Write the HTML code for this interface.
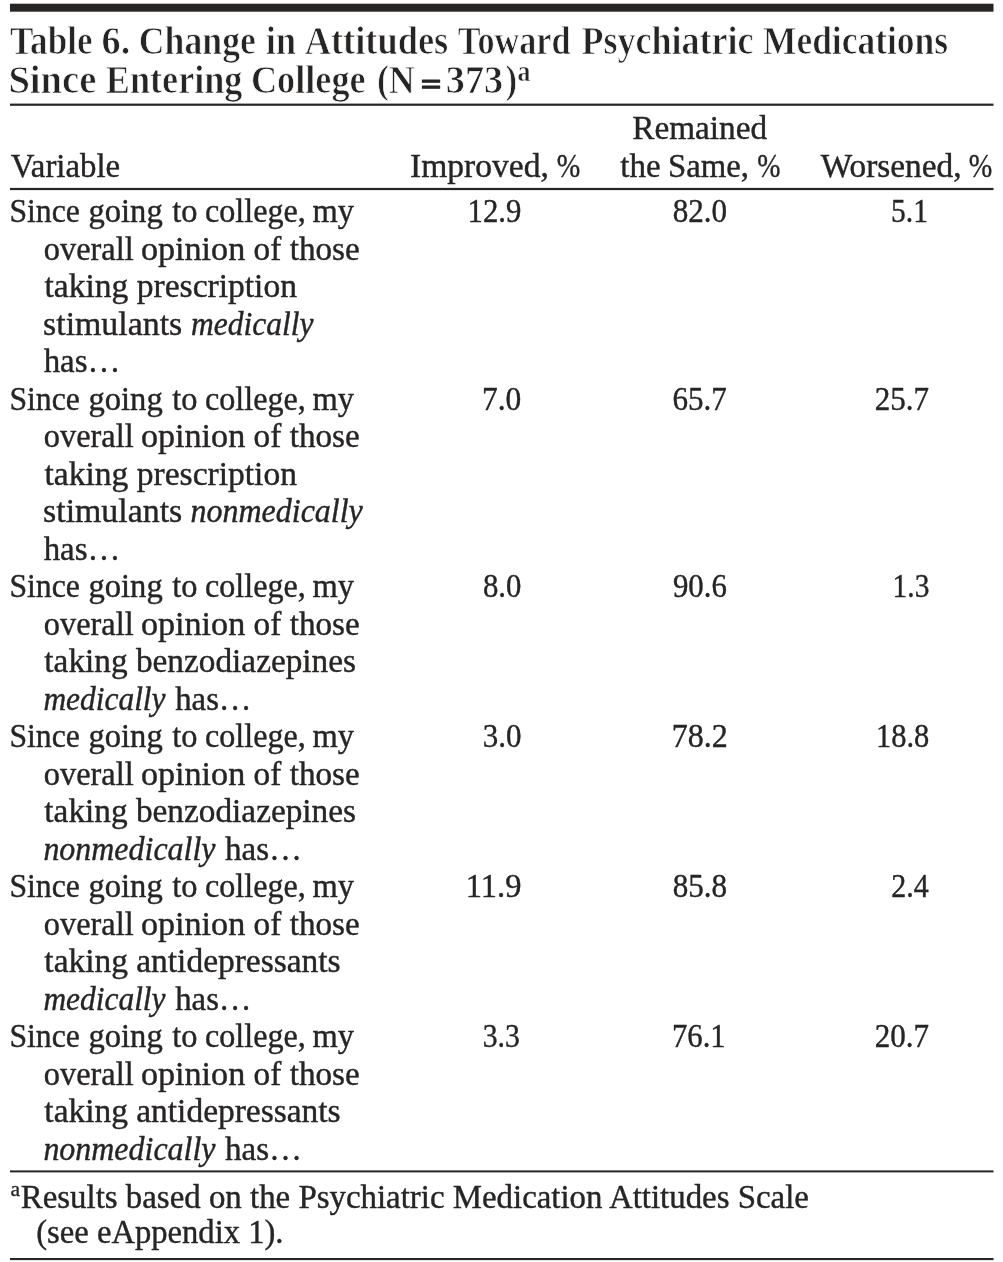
<!DOCTYPE html>
<html lang="en">
<head>
<meta charset="utf-8">
<title>Table 6. Change in Attitudes Toward Psychiatric Medications Since Entering College</title>
<style>
html,body{margin:0;padding:0;background:#fff;}
body{width:1003px;height:1262px;overflow:hidden;position:relative;}
svg{position:absolute;left:0;top:0;display:block;}
text{font-family:"Liberation Serif","DejaVu Serif",serif;fill:#272524;stroke:#272524;stroke-width:0.4px;stroke-linejoin:round;}
.b{font-size:33.0px;}
.t{font-size:40px;font-weight:bold;stroke:#fff;stroke-width:0.75px;}
.tq{font-size:40px;font-weight:bold;stroke-width:1.5px;}
.ts{font-size:29px;font-weight:bold;stroke:#fff;stroke-width:0.5px;}
.fs{font-size:20px;stroke-width:0.3px;}
.i{font-style:italic;}
</style>
</head>
<body>
<svg width="1003" height="1262" viewBox="0 0 1003 1262">
<rect x="10" y="3.7" width="983.5" height="8" fill="#272524"/>
<rect x="10" y="103.6" width="983.5" height="2.2" fill="#272524"/>
<rect x="10" y="187.9" width="983.5" height="2.2" fill="#272524"/>
<rect x="10" y="1170.4" width="983.5" height="2" fill="#272524"/>
<rect x="10" y="1258" width="983.5" height="2.1" fill="#272524"/>
<text id="t1w0" class="t" x="9.90" y="53.50" textLength="82.62" lengthAdjust="spacingAndGlyphs">Table</text>
<text id="t1w1" class="t" x="101.55" y="53.50" textLength="28.74" lengthAdjust="spacingAndGlyphs">6.</text>
<text id="t1w2" class="t" x="138.85" y="53.50" textLength="116.98" lengthAdjust="spacingAndGlyphs">Change</text>
<text id="t1w3" class="t" x="265.70" y="53.50" textLength="30.48" lengthAdjust="spacingAndGlyphs">in</text>
<text id="t1w4" class="t" x="304.65" y="53.50" textLength="143.60" lengthAdjust="spacingAndGlyphs">Attitudes</text>
<text id="t1w5" class="t" x="457.80" y="53.50" textLength="112.63" lengthAdjust="spacingAndGlyphs">Toward</text>
<text id="t1w6" class="t" x="581.55" y="53.50" textLength="172.04" lengthAdjust="spacingAndGlyphs">Psychiatric</text>
<text id="t1w7" class="t" x="763.00" y="53.50" textLength="185.01" lengthAdjust="spacingAndGlyphs">Medications</text>
<text id="t2w0" class="t" x="8.40" y="93.20" textLength="87.99" lengthAdjust="spacingAndGlyphs">Since</text>
<text id="t2w1" class="t" x="105.85" y="93.20" textLength="136.60" lengthAdjust="spacingAndGlyphs">Entering</text>
<text id="t2w2" class="t" x="250.95" y="93.20" textLength="114.66" lengthAdjust="spacingAndGlyphs">College</text>
<text id="t2w3" class="t" x="376.90" y="93.20" textLength="37.89" lengthAdjust="spacingAndGlyphs">(N</text>
<text id="t2w4" class="tq" transform="translate(0,95.10) scale(1,0.77)" x="420.65" y="0" textLength="20.79" lengthAdjust="spacingAndGlyphs">=</text>
<text id="t2w5" class="t" x="445.85" y="93.20" textLength="57.31" lengthAdjust="spacingAndGlyphs">373</text>
<text id="t2w6" class="t" x="505.60" y="93.20" textLength="11.62" lengthAdjust="spacingAndGlyphs">)</text>
<text id="ts" class="ts" x="517.50" y="80.80" textLength="12.94" lengthAdjust="spacingAndGlyphs">a</text>
<text id="h1" class="b" x="10.75" y="177.10" textLength="109.46" lengthAdjust="spacingAndGlyphs">Variable</text>
<text id="h2a" class="b" x="410.00" y="177.10" textLength="138.81" lengthAdjust="spacingAndGlyphs">Improved,</text>
<text id="h2b" class="b" x="556.75" y="177.10" textLength="23.50" lengthAdjust="spacingAndGlyphs">%</text>
<text id="h3" class="b" x="632.25" y="138.90" textLength="134.87" lengthAdjust="spacingAndGlyphs">Remained</text>
<text id="h4a" class="b" x="620.25" y="177.10" textLength="40.29" lengthAdjust="spacingAndGlyphs">the</text>
<text id="h4b" class="b" x="668.00" y="177.10" textLength="80.96" lengthAdjust="spacingAndGlyphs">Same,</text>
<text id="h4c" class="b" x="757.25" y="177.10" textLength="23.14" lengthAdjust="spacingAndGlyphs">%</text>
<text id="h5a" class="b" x="820.75" y="177.10" textLength="140.77" lengthAdjust="spacingAndGlyphs">Worsened,</text>
<text id="h5b" class="b" x="968.75" y="177.10" textLength="23.50" lengthAdjust="spacingAndGlyphs">%</text>
<text id="r0l0p0" class="b" x="9.40" y="222.00" textLength="70.41" lengthAdjust="spacingAndGlyphs">Since</text>
<text id="r0l0p1" class="b" x="88.40" y="222.00" textLength="74.32" lengthAdjust="spacingAndGlyphs">going</text>
<text id="r0l0p2" class="b" x="172.20" y="222.00" textLength="25.17" lengthAdjust="spacingAndGlyphs">to</text>
<text id="r0l0p3" class="b" x="205.05" y="222.00" textLength="100.75" lengthAdjust="spacingAndGlyphs">college,</text>
<text id="r0l0p4" class="b" x="312.50" y="222.00" textLength="41.51" lengthAdjust="spacingAndGlyphs">my</text>
<text id="r0n0" class="b" x="467.50" y="222.00" textLength="53.85" lengthAdjust="spacingAndGlyphs">12.9</text>
<text id="r0n1" class="b" x="672.70" y="222.00" textLength="54.45" lengthAdjust="spacingAndGlyphs">82.0</text>
<text id="r0n2" class="b" x="891.00" y="222.00" textLength="36.90" lengthAdjust="spacingAndGlyphs">5.1</text>
<text id="r0l1p0" class="b" x="43.85" y="259.50" textLength="89.86" lengthAdjust="spacingAndGlyphs">overall</text>
<text id="r0l1p1" class="b" x="140.90" y="259.50" textLength="104.37" lengthAdjust="spacingAndGlyphs">opinion</text>
<text id="r0l1p2" class="b" x="253.50" y="259.50" textLength="27.78" lengthAdjust="spacingAndGlyphs">of</text>
<text id="r0l1p3" class="b" x="289.75" y="259.50" textLength="69.99" lengthAdjust="spacingAndGlyphs">those</text>
<text id="r0l2p0" class="b" x="44.55" y="297.00" textLength="252.40" lengthAdjust="spacingAndGlyphs">taking prescription</text>
<text id="r0l3p0" class="b" x="43.05" y="334.50" textLength="139.19" lengthAdjust="spacingAndGlyphs">stimulants</text>
<text id="r0l3p1" class="b i" x="191.00" y="334.50" textLength="122.56" lengthAdjust="spacingAndGlyphs">medically</text>
<text id="r0l4p0" class="b" x="43.65" y="372.00" textLength="76.77" lengthAdjust="spacingAndGlyphs">has…</text>
<text id="r1l0p0" class="b" x="9.40" y="409.50" textLength="70.41" lengthAdjust="spacingAndGlyphs">Since</text>
<text id="r1l0p1" class="b" x="88.40" y="409.50" textLength="74.32" lengthAdjust="spacingAndGlyphs">going</text>
<text id="r1l0p2" class="b" x="172.20" y="409.50" textLength="25.17" lengthAdjust="spacingAndGlyphs">to</text>
<text id="r1l0p3" class="b" x="205.05" y="409.50" textLength="100.75" lengthAdjust="spacingAndGlyphs">college,</text>
<text id="r1l0p4" class="b" x="312.50" y="409.50" textLength="41.51" lengthAdjust="spacingAndGlyphs">my</text>
<text id="r1n0" class="b" x="482.00" y="409.50" textLength="39.37" lengthAdjust="spacingAndGlyphs">7.0</text>
<text id="r1n1" class="b" x="672.45" y="409.50" textLength="54.38" lengthAdjust="spacingAndGlyphs">65.7</text>
<text id="r1n2" class="b" x="874.65" y="409.50" textLength="54.35" lengthAdjust="spacingAndGlyphs">25.7</text>
<text id="r1l1p0" class="b" x="43.85" y="447.00" textLength="89.86" lengthAdjust="spacingAndGlyphs">overall</text>
<text id="r1l1p1" class="b" x="140.90" y="447.00" textLength="104.37" lengthAdjust="spacingAndGlyphs">opinion</text>
<text id="r1l1p2" class="b" x="253.50" y="447.00" textLength="27.78" lengthAdjust="spacingAndGlyphs">of</text>
<text id="r1l1p3" class="b" x="289.75" y="447.00" textLength="69.99" lengthAdjust="spacingAndGlyphs">those</text>
<text id="r1l2p0" class="b" x="44.55" y="484.50" textLength="252.40" lengthAdjust="spacingAndGlyphs">taking prescription</text>
<text id="r1l3p0" class="b" x="43.05" y="522.00" textLength="139.19" lengthAdjust="spacingAndGlyphs">stimulants</text>
<text id="r1l3p1" class="b i" x="190.60" y="522.00" textLength="172.15" lengthAdjust="spacingAndGlyphs">nonmedically</text>
<text id="r1l4p0" class="b" x="43.65" y="559.50" textLength="76.77" lengthAdjust="spacingAndGlyphs">has…</text>
<text id="r2l0p0" class="b" x="9.40" y="597.00" textLength="70.41" lengthAdjust="spacingAndGlyphs">Since</text>
<text id="r2l0p1" class="b" x="88.40" y="597.00" textLength="74.32" lengthAdjust="spacingAndGlyphs">going</text>
<text id="r2l0p2" class="b" x="172.20" y="597.00" textLength="25.17" lengthAdjust="spacingAndGlyphs">to</text>
<text id="r2l0p3" class="b" x="205.05" y="597.00" textLength="100.75" lengthAdjust="spacingAndGlyphs">college,</text>
<text id="r2l0p4" class="b" x="312.50" y="597.00" textLength="41.51" lengthAdjust="spacingAndGlyphs">my</text>
<text id="r2n0" class="b" x="483.00" y="597.00" textLength="38.37" lengthAdjust="spacingAndGlyphs">8.0</text>
<text id="r2n1" class="b" x="672.95" y="597.00" textLength="53.91" lengthAdjust="spacingAndGlyphs">90.6</text>
<text id="r2n2" class="b" x="892.60" y="597.00" textLength="36.79" lengthAdjust="spacingAndGlyphs">1.3</text>
<text id="r2l1p0" class="b" x="43.85" y="634.50" textLength="89.86" lengthAdjust="spacingAndGlyphs">overall</text>
<text id="r2l1p1" class="b" x="140.90" y="634.50" textLength="104.37" lengthAdjust="spacingAndGlyphs">opinion</text>
<text id="r2l1p2" class="b" x="253.50" y="634.50" textLength="27.78" lengthAdjust="spacingAndGlyphs">of</text>
<text id="r2l1p3" class="b" x="289.75" y="634.50" textLength="69.99" lengthAdjust="spacingAndGlyphs">those</text>
<text id="r2l2p0" class="b" x="44.35" y="672.00" textLength="311.66" lengthAdjust="spacingAndGlyphs">taking benzodiazepines</text>
<text id="r2l3p0" class="b i" x="43.40" y="709.50" textLength="122.15" lengthAdjust="spacingAndGlyphs">medically</text>
<text id="r2l3p1" class="b" x="175.25" y="709.50" textLength="76.34" lengthAdjust="spacingAndGlyphs">has…</text>
<text id="r3l0p0" class="b" x="9.40" y="747.00" textLength="70.41" lengthAdjust="spacingAndGlyphs">Since</text>
<text id="r3l0p1" class="b" x="88.40" y="747.00" textLength="74.32" lengthAdjust="spacingAndGlyphs">going</text>
<text id="r3l0p2" class="b" x="172.20" y="747.00" textLength="25.17" lengthAdjust="spacingAndGlyphs">to</text>
<text id="r3l0p3" class="b" x="205.05" y="747.00" textLength="100.75" lengthAdjust="spacingAndGlyphs">college,</text>
<text id="r3l0p4" class="b" x="312.50" y="747.00" textLength="41.51" lengthAdjust="spacingAndGlyphs">my</text>
<text id="r3n0" class="b" x="482.75" y="747.00" textLength="38.75" lengthAdjust="spacingAndGlyphs">3.0</text>
<text id="r3n1" class="b" x="671.70" y="747.00" textLength="56.14" lengthAdjust="spacingAndGlyphs">78.2</text>
<text id="r3n2" class="b" x="876.00" y="747.00" textLength="53.23" lengthAdjust="spacingAndGlyphs">18.8</text>
<text id="r3l1p0" class="b" x="43.85" y="784.50" textLength="89.86" lengthAdjust="spacingAndGlyphs">overall</text>
<text id="r3l1p1" class="b" x="140.90" y="784.50" textLength="104.37" lengthAdjust="spacingAndGlyphs">opinion</text>
<text id="r3l1p2" class="b" x="253.50" y="784.50" textLength="27.78" lengthAdjust="spacingAndGlyphs">of</text>
<text id="r3l1p3" class="b" x="289.75" y="784.50" textLength="69.99" lengthAdjust="spacingAndGlyphs">those</text>
<text id="r3l2p0" class="b" x="44.35" y="822.00" textLength="311.66" lengthAdjust="spacingAndGlyphs">taking benzodiazepines</text>
<text id="r3l3p0" class="b i" x="43.40" y="859.50" textLength="172.08" lengthAdjust="spacingAndGlyphs">nonmedically</text>
<text id="r3l3p1" class="b" x="225.05" y="859.50" textLength="76.97" lengthAdjust="spacingAndGlyphs">has…</text>
<text id="r4l0p0" class="b" x="9.40" y="897.00" textLength="70.41" lengthAdjust="spacingAndGlyphs">Since</text>
<text id="r4l0p1" class="b" x="88.40" y="897.00" textLength="74.32" lengthAdjust="spacingAndGlyphs">going</text>
<text id="r4l0p2" class="b" x="172.20" y="897.00" textLength="25.17" lengthAdjust="spacingAndGlyphs">to</text>
<text id="r4l0p3" class="b" x="205.05" y="897.00" textLength="100.75" lengthAdjust="spacingAndGlyphs">college,</text>
<text id="r4l0p4" class="b" x="312.50" y="897.00" textLength="41.51" lengthAdjust="spacingAndGlyphs">my</text>
<text id="r4n0" class="b" x="465.75" y="897.00" textLength="55.67" lengthAdjust="spacingAndGlyphs">11.9</text>
<text id="r4n1" class="b" x="672.70" y="897.00" textLength="54.45" lengthAdjust="spacingAndGlyphs">85.8</text>
<text id="r4n2" class="b" x="891.25" y="897.00" textLength="37.46" lengthAdjust="spacingAndGlyphs">2.4</text>
<text id="r4l1p0" class="b" x="43.85" y="934.50" textLength="89.86" lengthAdjust="spacingAndGlyphs">overall</text>
<text id="r4l1p1" class="b" x="140.90" y="934.50" textLength="104.37" lengthAdjust="spacingAndGlyphs">opinion</text>
<text id="r4l1p2" class="b" x="253.50" y="934.50" textLength="27.78" lengthAdjust="spacingAndGlyphs">of</text>
<text id="r4l1p3" class="b" x="289.75" y="934.50" textLength="69.99" lengthAdjust="spacingAndGlyphs">those</text>
<text id="r4l2p0" class="b" x="44.35" y="972.00" textLength="296.20" lengthAdjust="spacingAndGlyphs">taking antidepressants</text>
<text id="r4l3p0" class="b i" x="43.40" y="1009.50" textLength="122.15" lengthAdjust="spacingAndGlyphs">medically</text>
<text id="r4l3p1" class="b" x="175.25" y="1009.50" textLength="76.34" lengthAdjust="spacingAndGlyphs">has…</text>
<text id="r5l0p0" class="b" x="9.40" y="1047.00" textLength="70.41" lengthAdjust="spacingAndGlyphs">Since</text>
<text id="r5l0p1" class="b" x="88.40" y="1047.00" textLength="74.32" lengthAdjust="spacingAndGlyphs">going</text>
<text id="r5l0p2" class="b" x="172.20" y="1047.00" textLength="25.17" lengthAdjust="spacingAndGlyphs">to</text>
<text id="r5l0p3" class="b" x="205.05" y="1047.00" textLength="100.75" lengthAdjust="spacingAndGlyphs">college,</text>
<text id="r5l0p4" class="b" x="312.50" y="1047.00" textLength="41.51" lengthAdjust="spacingAndGlyphs">my</text>
<text id="r5n0" class="b" x="482.75" y="1047.00" textLength="37.09" lengthAdjust="spacingAndGlyphs">3.3</text>
<text id="r5n1" class="b" x="671.95" y="1047.00" textLength="53.76" lengthAdjust="spacingAndGlyphs">76.1</text>
<text id="r5n2" class="b" x="874.65" y="1047.00" textLength="54.35" lengthAdjust="spacingAndGlyphs">20.7</text>
<text id="r5l1p0" class="b" x="43.85" y="1084.50" textLength="89.86" lengthAdjust="spacingAndGlyphs">overall</text>
<text id="r5l1p1" class="b" x="140.90" y="1084.50" textLength="104.37" lengthAdjust="spacingAndGlyphs">opinion</text>
<text id="r5l1p2" class="b" x="253.50" y="1084.50" textLength="27.78" lengthAdjust="spacingAndGlyphs">of</text>
<text id="r5l1p3" class="b" x="289.75" y="1084.50" textLength="69.99" lengthAdjust="spacingAndGlyphs">those</text>
<text id="r5l2p0" class="b" x="44.35" y="1122.00" textLength="296.20" lengthAdjust="spacingAndGlyphs">taking antidepressants</text>
<text id="r5l3p0" class="b i" x="43.40" y="1159.50" textLength="172.08" lengthAdjust="spacingAndGlyphs">nonmedically</text>
<text id="r5l3p1" class="b" x="225.05" y="1159.50" textLength="76.97" lengthAdjust="spacingAndGlyphs">has…</text>
<text id="fa" class="fs" x="10.50" y="1195.50" textLength="9.59" lengthAdjust="spacingAndGlyphs">a</text>
<text id="f1" class="b" x="20.75" y="1207.50" textLength="788.15" lengthAdjust="spacingAndGlyphs">Results based on the Psychiatric Medication Attitudes Scale</text>
<text id="f2" class="b" x="36.25" y="1242.80" textLength="247.29" lengthAdjust="spacingAndGlyphs">(see eAppendix 1).</text>
</svg>
</body>
</html>
